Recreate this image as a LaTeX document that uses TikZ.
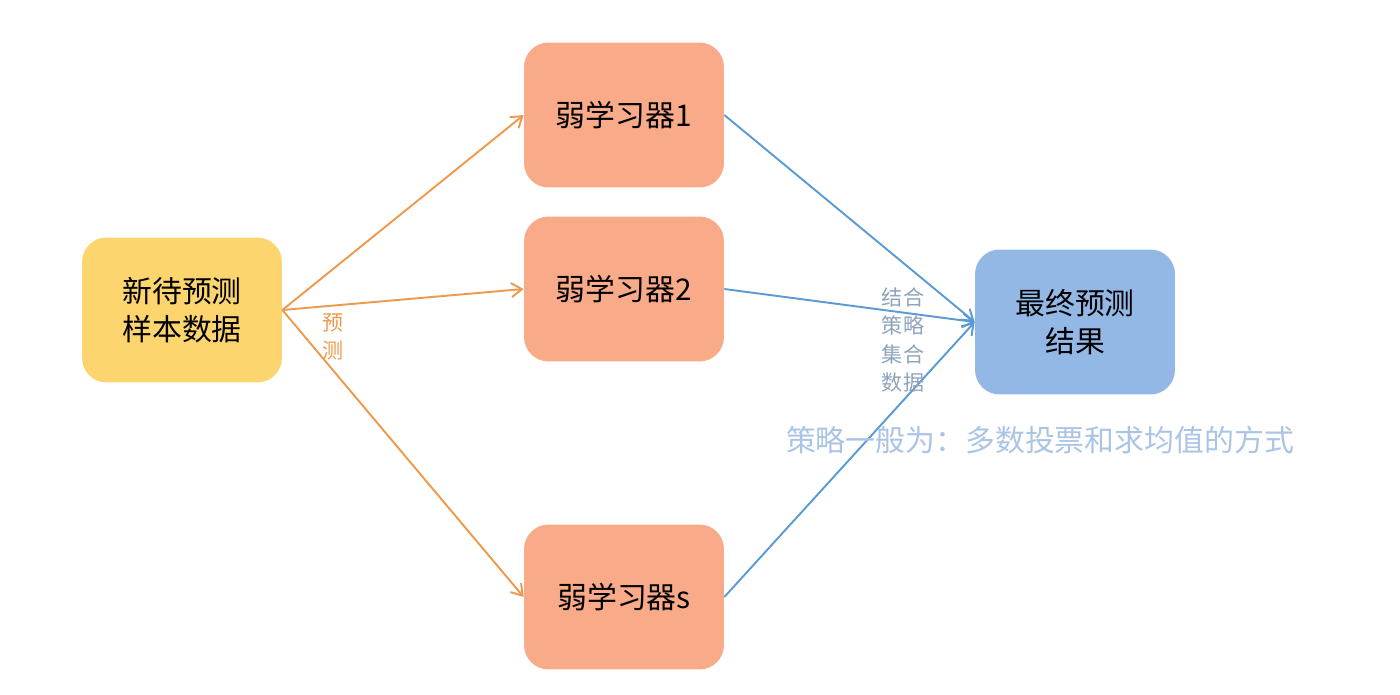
\documentclass[tikz,border=0pt]{standalone}
\usepackage{fontspec}
\setmainfont{Noto Sans CJK SC}
\usetikzlibrary{positioning,arrows.meta}
\definecolor{inyellow}{HTML}{FCD56E}
\definecolor{weakorange}{HTML}{F9AA88}
\definecolor{finalblue}{HTML}{94B8E6}
\definecolor{orangeline}{HTML}{EE9A4E}
\definecolor{blueline}{HTML}{5B9BD5}
\definecolor{notegray}{HTML}{8FA3BD}
\definecolor{noteblue}{HTML}{A9C4E4}

\begin{document}
\begin{tikzpicture}[
    x=0.02cm, y=-0.02cm,
    block/.style={
        rectangle,
        rounded corners=14pt,
        minimum width=4cm,
        minimum height=2.9cm,
        text centered,
        align=center,
        font=\fontsize{17}{22}\selectfont
    },
    line/.style={draw, line width=1.1pt, -{Straight Barb[length=6pt,width=8pt]}}
]
    \useasboundingbox (0,0) rectangle (1400,694);
    % Input
    \node[block, fill=inyellow] (sample) at (182,310) {新待预测\\样本数据};

    % Weak learners
    \node[block, fill=weakorange] (weak1) at (624,115) {弱学习器1};
    \node[block, fill=weakorange] (weak2) at (624,289) {弱学习器2};
    \node[block, fill=weakorange] (weaks) at (624,597) {弱学习器s};

    % Result
    \node[block, fill=finalblue] (final) at (1075,322) {最终预测\\结果};

    % Connections
    \draw[line, orangeline] (sample.east) -- (weak1.west);
    \draw[line, orangeline] (sample.east) -- (weak2.west);
    \draw[line, orangeline] (sample.east) -- (weaks.west);
    \draw[line, blueline] (weak1.east) -- (final.west);
    \draw[line, blueline] (weak2.east) -- (final.west);
    \draw[line, blueline] (weaks.east) -- (final.west);

    % Labels
    \node[text=orangeline, align=center, font=\fontsize{12}{16}\selectfont] (predict) at (333,337) {预\\测};
    \node[text=notegray, align=center, font=\fontsize{12}{16}\selectfont] (combine) at (903,340) {结合\\策略\\集合\\数据};
    \node[text=noteblue, font=\fontsize{17}{20}\selectfont] (note) at (1040,440) {策略一般为：多数投票和求均值的方式};
\end{tikzpicture}
\end{document}
